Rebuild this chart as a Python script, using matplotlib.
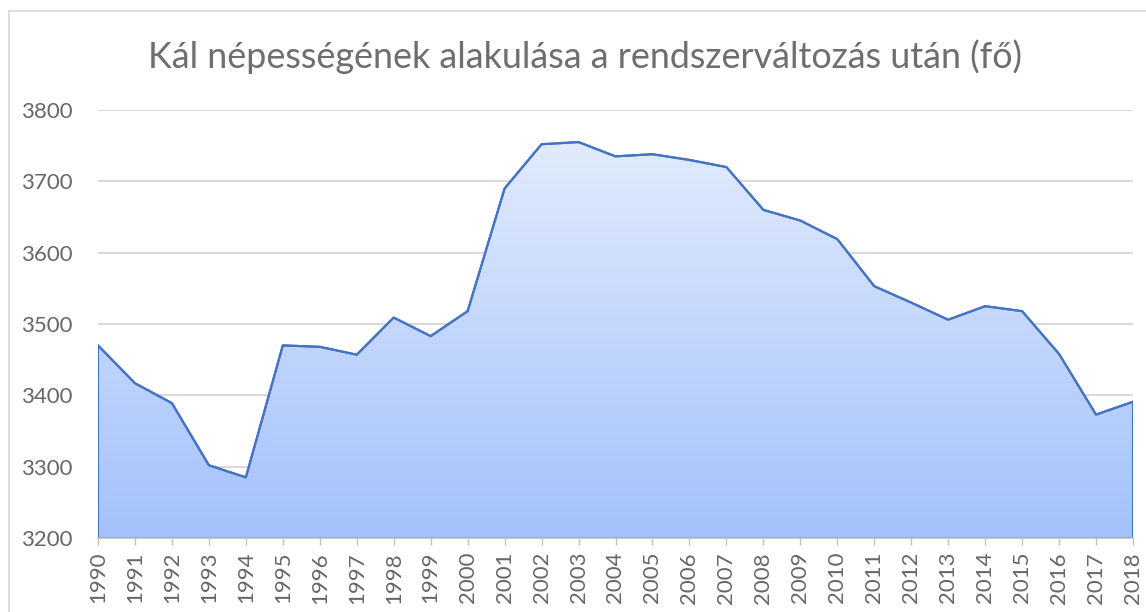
import numpy as np
import matplotlib
matplotlib.use("Agg")
import matplotlib.pyplot as plt
from matplotlib.lines import Line2D
from matplotlib.colors import LinearSegmentedColormap

years = [1990, 1991, 1992, 1993, 1994, 1995, 1996, 1997, 1998, 1999,
         2000, 2001, 2002, 2003, 2004, 2005, 2006, 2007, 2008, 2009,
         2010, 2011, 2012, 2013, 2014, 2015, 2016, 2017, 2018]
population = [3470, 3417, 3389, 3302, 3285, 3470, 3468, 3457, 3509, 3483,
              3518, 3690, 3752, 3755, 3735, 3738, 3730, 3720, 3660, 3645,
              3619, 3553, 3530, 3506, 3525, 3518, 3458, 3373, 3391]
yticks = [3200, 3300, 3400, 3500, 3600, 3700, 3800]
title = "Kál népességének alakulása a rendszerváltozás után (fő)"

W, H = 1146, 612
txt = '#666666'
grid = '#d9d9d9'
line_col = '#4472c4'

plt.rcParams['font.family'] = ['Lato', 'DejaVu Sans']
fig = plt.figure(figsize=(W / 100, H / 100), dpi=100)

# outer chart border (cut off on right and bottom)
fig.add_artist(Line2D([9 / W, 9 / W], [0, 1 - 11 / H], color=grid, lw=1.2))
fig.add_artist(Line2D([9 / W, 1], [1 - 11 / H, 1 - 11 / H], color=grid, lw=1.2))

ax = fig.add_axes([98 / W, 1 - 538 / H, (1133 - 98) / W, (538 - 110) / H])
x = np.arange(len(years))

# gradient filled area
poly = ax.fill_between(x, population, 3200, facecolor='none', edgecolor=line_col, lw=1.5, zorder=3)
cmap = LinearSegmentedColormap.from_list('g', ['#a3c1fb', '#e1ebfd'])
top = max(population)
img = ax.imshow(np.linspace(0, 1, 256).reshape(-1, 1), cmap=cmap, aspect='auto',
                origin='lower', extent=[0, len(years) - 1, 3200, top], zorder=2)
img.set_clip_path(poly.get_paths()[0], transform=ax.transData)
ax.plot(x, population, color=line_col, lw=1.6, zorder=4)

ax.set_xlim(0, len(years) - 1)
ax.set_ylim(3200, 3800)
ax.set_yticks(yticks)
ax.set_xticks(x)
ax.set_xticklabels([str(y) for y in years], rotation=90)
ax.grid(axis='y', color=grid, lw=1.5, zorder=1)
ax.set_axisbelow(True)
for s in ['top', 'right', 'left']:
    ax.spines[s].set_visible(False)
ax.spines['bottom'].set_color('#bfbfbf')
ax.spines['bottom'].set_linewidth(1.2)
ax.spines['bottom'].set_zorder(5)
ax.tick_params(axis='y', length=0, pad=18, labelsize=16, labelcolor=txt)
ax.tick_params(axis='x', length=5, color='#bfbfbf', width=1, pad=5, labelsize=16, labelcolor=txt)

fig.text(585 / W, 1 - 57 / H, title, ha='center', va='center', fontsize=25.8, color='#6e6e6e')

fig.savefig('out.png', dpi=100)
